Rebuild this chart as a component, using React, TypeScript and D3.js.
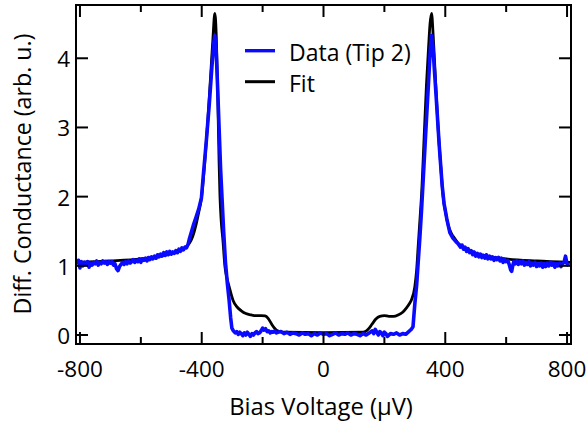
import React from 'react';
import * as d3 from 'd3';

// bias voltage (µV) and measured differential conductance, tip 2
const dataBias = [
  -810, -805, -800, -795, -790, -785, -780, -775, -770, -765, -760, -755, -750, -745, -740, -735, -730, -725,
  -720, -715, -710, -705, -700, -695, -690, -685, -680, -675, -670, -665, -660, -655, -650, -645, -640, -635,
  -630, -625, -620, -615, -610, -605, -600, -595, -590, -585, -580, -575, -570, -565, -560, -555, -550, -545,
  -540, -535, -530, -525, -520, -515, -510, -505, -500, -495, -490, -485, -480, -475, -470, -465, -460, -455,
  -450, -445, -440, -434, -428, -418, -410, -401, -395, -385, -375, -367, -361, -357, -353,
  -348, -343, -338, -333, -328, -322, -316, -310, -305, -301, -296, -290, -285, -280, -275, -270, -265, -260,
  -255, -250, -245, -240, -235, -230, -225, -220, -215, -210, -205, -200, -195, -190, -185, -180, -175, -170,
  -165, -160, -155, -150, -140, -130, -120, -110, -100, -90, -80, -70, -60, -50, -40, -30, -20, -10,
  0, 10, 20, 30, 40, 50, 60, 70, 80, 90, 100, 110, 120, 130, 140, 150, 160, 165,
  170, 175, 180, 185, 190, 195, 200, 205, 210, 220, 230, 240, 250, 260, 270, 280, 288, 294,
  300, 306, 311, 316, 322, 330, 338, 345, 351, 355, 359, 364, 370, 380, 390, 396, 405, 415,
  425, 435, 442, 450, 455, 460, 465, 470, 475, 480, 485, 490, 495, 500, 505, 510, 515, 520,
  525, 530, 535, 540, 545, 550, 555, 560, 565, 570, 575, 580, 585, 590, 595, 600, 605, 610,
  615, 618, 622, 625, 630, 635, 640, 645, 650, 655, 660, 665, 670, 675, 680, 685, 690, 695,
  700, 705, 710, 715, 720, 725, 730, 735, 740, 745, 750, 755, 760, 765, 770, 775, 780, 785,
  790, 795, 800, 805,
];
const dataCond = [
  1.02, 1.08, 0.97, 1.06, 1.0, 1.05, 1.02, 1.06, 0.98, 1.04, 1.01, 1.05, 1.03, 1.07, 1.01, 1.05, 1.03, 1.07,
  1.04, 1.06, 1.02, 1.06, 1.04, 1.06, 1.01, 1.03, 0.96, 0.93, 0.99, 1.02, 1.05, 1.02, 1.06, 1.03, 1.07, 1.04,
  1.06, 1.09, 1.05, 1.08, 1.06, 1.1, 1.05, 1.1, 1.08, 1.11, 1.07, 1.12, 1.09, 1.13, 1.1, 1.14, 1.11, 1.16,
  1.13, 1.17, 1.14, 1.19, 1.15, 1.2, 1.16, 1.21, 1.17, 1.2, 1.18, 1.22, 1.19, 1.24, 1.21, 1.26, 1.23, 1.27,
  1.26, 1.31, 1.4, 1.49, 1.58, 1.71, 1.82, 1.98, 2.3, 2.8, 3.35, 3.85, 4.2, 4.33, 4.15,
  3.6, 3.0, 2.4, 1.95, 1.5, 1.05, 0.75, 0.5, 0.25, 0.1, 0.06, 0.03, 0.05, 0.01, 0.04, 0.02, -0.01, 0.03,
  0.0, 0.04, 0.01, -0.02, 0.02, 0.0, 0.03, 0.05, 0.02, 0.03, 0.06, 0.1, 0.07, 0.09, 0.05, 0.06, 0.03, 0.05,
  0.04, 0.06, 0.03, 0.04, 0.05, 0.02, 0.04, 0.01, 0.03, 0.02, 0.0, 0.03, 0.01, 0.02, -0.01, 0.02, 0.0, 0.03,
  0.01, 0.02, -0.01, 0.01, 0.03, 0.0, 0.02, 0.01, 0.03, 0.0, 0.02, 0.01, -0.01, 0.02, 0.0, 0.03, 0.06, 0.02,
  0.08, 0.04, 0.0, 0.05, 0.03, -0.01, 0.04, 0.02, -0.02, 0.02, 0.01, 0.03, 0.0, 0.02, 0.01, 0.05, 0.08, 0.12,
  0.45, 0.72, 1.05, 1.37, 1.8, 2.45, 3.1, 3.65, 4.15, 4.33, 4.2, 3.85, 3.45, 2.75, 2.15, 1.9, 1.68, 1.48,
  1.4, 1.35, 1.32, 1.27, 1.3, 1.24, 1.27, 1.21, 1.25, 1.19, 1.22, 1.16, 1.2, 1.14, 1.18, 1.13, 1.17, 1.12,
  1.15, 1.11, 1.16, 1.1, 1.14, 1.1, 1.13, 1.08, 1.12, 1.09, 1.12, 1.07, 1.11, 1.05, 1.09, 1.06, 1.08, 1.02,
  0.94, 0.92, 1.01, 1.06, 1.03, 1.07, 1.02, 1.06, 1.03, 1.07, 1.01, 1.05, 1.02, 1.06, 1.0, 1.04, 1.01, 1.05,
  0.99, 1.03, 1.0, 1.04, 0.98, 1.03, 0.99, 1.04, 1.0, 1.05, 1.01, 1.04, 0.98, 1.03, 1.0, 1.04, 0.99, 1.03,
  1.05, 1.14, 1.03, 1.0,
];

// fit curve
const fitBias = [
  -810, -700, -600, -550, -500, -470, -450, -440, -430, -420, -410, -401, -390, -380, -370, -363, -357, -352,
  -347, -343, -340, -336, -330, -324, -317, -310, -297, -285, -270, -255, -237, -220, -205, -192, -182, -172,
  -163, -155, -145, -130, 0, 130, 141, 150, 160, 172, 185, 200, 215, 230, 245, 260, 272, 283,
  289, 300, 306, 311, 317, 323, 330, 338, 345, 350, 355, 360, 366, 375, 385, 393, 402, 410,
  420, 430, 440, 455, 470, 500, 550, 600, 700, 810,
];
const fitCond = [
  1.05, 1.07, 1.1, 1.13, 1.18, 1.22, 1.28, 1.33, 1.42, 1.57, 1.77, 1.98, 2.5, 3.1, 3.8, 4.3, 4.65, 4.3,
  3.4, 2.5, 2.0, 1.65, 1.35, 1.0, 0.82, 0.7, 0.5, 0.41, 0.35, 0.31, 0.29, 0.28, 0.28, 0.275, 0.24, 0.17,
  0.11, 0.07, 0.05, 0.04, 0.035, 0.04, 0.06, 0.1, 0.16, 0.23, 0.27, 0.28, 0.27, 0.27, 0.29, 0.33, 0.39, 0.46,
  0.51, 0.7, 0.94, 1.28, 1.68, 2.1, 2.8, 3.6, 4.15, 4.5, 4.65, 4.35, 3.85, 3.1, 2.45, 2.0, 1.75, 1.58,
  1.47, 1.4, 1.34, 1.28, 1.23, 1.18, 1.13, 1.1, 1.07, 1.05,
];

const xMajorTicks = [-800, -400, 0, 400, 800];
const xMinorTicks = [-600, -200, 200, 600];
const yTicks = [0, 1, 2, 3, 4];
const legendLabels = ['Data (Tip 2)', 'Fit'];

const W = 587;
const H = 426;
const FONT = '"Open Sans", "Noto Sans", sans-serif';

export default function App() {
  const x = d3.scaleLinear().domain([-813, 813]).range([76, 571]);
  const y = d3.scaleLinear().domain([-0.13, 4.77]).range([344, 5]);
  const [x0, x1] = x.range();
  const [y0, y1] = y.range();

  const dataPts: [number, number][] = dataBias.map((b, i) => [b, dataCond[i]]);
  const fitPts: [number, number][] = fitBias.map((b, i) => [b, fitCond[i]]);

  const dataLine = d3.line<[number, number]>()
    .x(d => x(d[0]))
    .y(d => y(d[1]));
  const fitLine = d3.line<[number, number]>()
    .x(d => x(d[0]))
    .y(d => y(d[1]))
    .curve(d3.curveMonotoneX);

  return (
    <svg width={W} height={H} style={{ position: 'absolute', left: 0, top: 0, background: '#fff' }}
      fontFamily={FONT}>
      {/* curves */}
      <path d={fitLine(fitPts) || ''} fill="none" stroke="#000" strokeWidth={2.8} strokeLinejoin="round" />
      <path d={dataLine(dataPts) || ''} fill="none" stroke="#0a0aff" strokeWidth={3.6} strokeLinejoin="round" />

      {/* frame */}
      <rect x={x0} y={y1} width={x1 - x0} height={y0 - y1} fill="none" stroke="#000" strokeWidth={2} />

      {/* x ticks, inward on top and bottom */}
      {xMajorTicks.map(t => (
        <g key={'xM' + t}>
          <line x1={x(t)} x2={x(t)} y1={y0} y2={y0 - 12} stroke="#000" strokeWidth={2} />
          <line x1={x(t)} x2={x(t)} y1={y1} y2={y1 + 12} stroke="#000" strokeWidth={2} />
          <text x={x(t)} y={377} textAnchor="middle" fontSize={22.5}>{t}</text>
        </g>
      ))}
      {xMinorTicks.map(t => (
        <g key={'xm' + t}>
          <line x1={x(t)} x2={x(t)} y1={y0} y2={y0 - 7} stroke="#000" strokeWidth={2} />
          <line x1={x(t)} x2={x(t)} y1={y1} y2={y1 + 7} stroke="#000" strokeWidth={2} />
        </g>
      ))}

      {/* y ticks, inward on left and right */}
      {yTicks.map(t => (
        <g key={'y' + t}>
          <line x1={x0} x2={x0 + 12} y1={y(t)} y2={y(t)} stroke="#000" strokeWidth={2} />
          <line x1={x1} x2={x1 - 12} y1={y(t)} y2={y(t)} stroke="#000" strokeWidth={2} />
          <text x={70} y={y(t) + 9} textAnchor="end" fontSize={22.5}>{t}</text>
        </g>
      ))}

      {/* axis titles */}
      <text x={321} y={415} textAnchor="middle" fontSize={23.8}>Bias Voltage (µV)</text>
      <text transform="translate(31,174) rotate(-90)" textAnchor="middle" fontSize={23.2}>
        Diff. Conductance (arb. u.)
      </text>

      {/* legend */}
      <line x1={245} x2={275} y1={50.7} y2={50.7} stroke="#0a0aff" strokeWidth={3.4} />
      <text x={289} y={61} fontSize={23}>{legendLabels[0]}</text>
      <line x1={245} x2={275} y1={81.7} y2={81.7} stroke="#000" strokeWidth={3} />
      <text x={289} y={92} fontSize={23}>{legendLabels[1]}</text>
    </svg>
  );
}
